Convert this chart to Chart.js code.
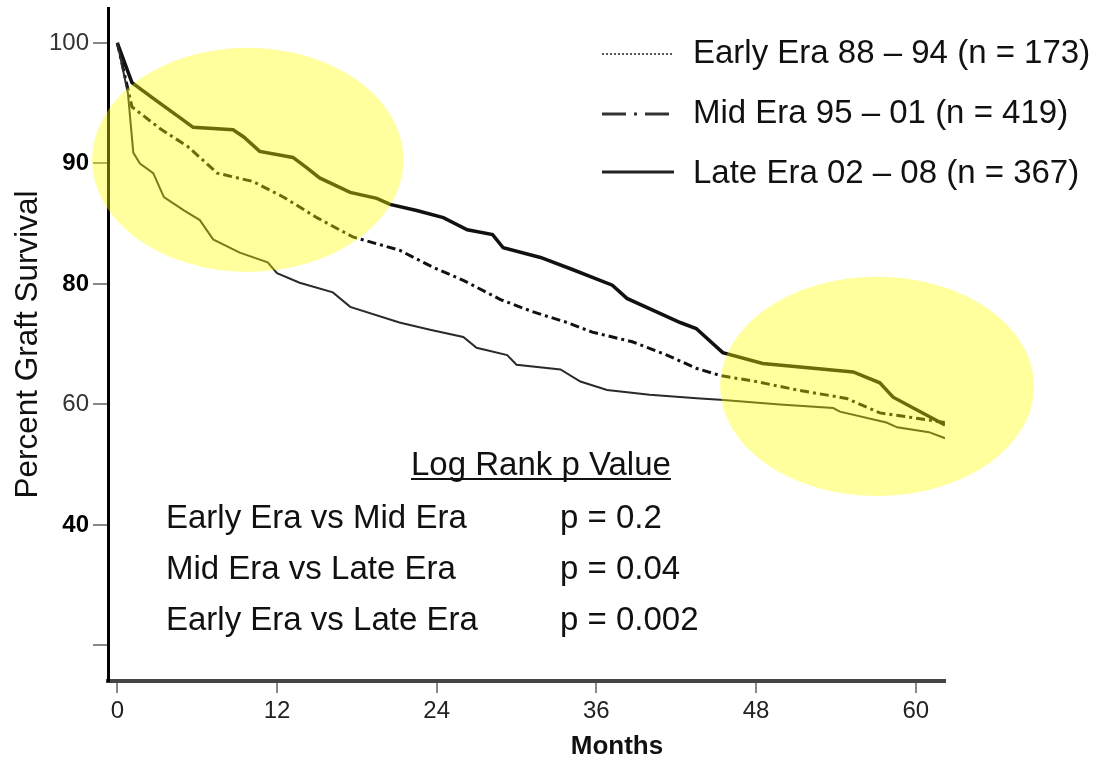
<!DOCTYPE html>
<html>
<head>
<meta charset="utf-8">
<script src="https://cdn.jsdelivr.net/npm/chart.js@4/dist/chart.umd.min.js"></script>
<style>
html,body{margin:0;padding:0;background:#fff;}
#wrap{width:1093px;height:759px;}
</style>
</head>
<body>
<div id="wrap"><canvas id="kmChart" width="1093" height="759"></canvas></div>
<script>

/* DATA */

const xTicks = [0,12,24,36,48,60]

// the printed axis is irregular: evenly spaced ticks carry these labels
const yTickValues = [50,60,70,80,90,100]
const yTickLabels = ["","40","60","80","90","100"]
const boldLabels = ["40","80","90"]

const earlyMonths = [0,0.8,1.2,1.7,2.7,3.5,5.0,6.2,7.2,9.2,11.3,12.0,13.7,16.2,17.5,21.2,23.5,26.0,27.0,29.3,30.0,33.3,34.8,36.8,40.0,43.8,45.3,49.8,53.8,54.3,57.8,58.6,61.0,62.2]
const earlyValues = [100,95.8,90.9,90.0,89.2,87.2,86.1,85.3,83.7,82.6,81.8,80.9,80.1,79.3,78.1,76.8,76.2,75.6,74.7,74.1,73.3,72.9,71.9,71.2,70.8,70.5,70.4,70.0,69.7,69.4,68.5,68.1,67.7,67.2]

const midMonths = [0,1.1,3.2,5.3,7.5,10.2,12.5,15.0,17.7,21.2,23.7,26.0,28.8,31.2,33.8,35.7,38.7,41.3,43.5,45.3,48.0,51.1,54.8,57.3,59.8,62.2]
const midValues = [100,94.7,92.9,91.4,89.2,88.5,87.2,85.5,83.9,82.8,81.4,80.3,78.7,77.7,76.8,76.0,75.2,74.1,73.0,72.4,71.9,71.2,70.5,69.3,68.9,68.5]

const lateMonths = [0,1.1,2.7,4.7,5.7,8.7,9.5,10.7,13.2,14.3,15.2,17.5,19.5,20.5,22.5,24.5,26.3,28.2,29.0,31.8,34.2,37.2,38.3,42.3,43.5,45.5,48.5,55.3,57.3,58.3,62.2]
const lateValues = [100,96.7,95.4,93.8,93.0,92.8,92.2,91.0,90.5,89.6,88.8,87.6,87.1,86.6,86.1,85.5,84.5,84.1,83.0,82.2,81.2,79.9,78.8,76.8,76.3,74.3,73.4,72.7,71.8,70.6,68.3]

const seriesNames = ["Early Era 88 – 94 (n = 173)","Mid Era 95 – 01 (n = 419)","Late Era 02 – 08 (n = 367)"]

const testRows = ["Early Era vs Mid Era","Mid Era vs Late Era","Early Era vs Late Era"]
const testP = ["p = 0.2","p = 0.04","p = 0.002"]

const FONT = "'Liberation Sans', Arial, sans-serif"

function pts(xs,ys){
return xs.map((x,i)=>({x:x,y:ys[i]}))
}

function yLabel(v){
const i = yTickValues.indexOf(v)
return i<0 ? "" : yTickLabels[i]
}

function isBold(c){
return !!(c && c.tick && boldLabels.includes(yLabel(c.tick.value)))
}

/* LEGEND, TEXT, HIGHLIGHTS */

const legendStyles = [
{dash:[2,2],width:2,color:"#555"},
{dash:[24,8,3,8],width:3,color:"#333"},
{dash:[],width:3,color:"#222"}
]

const overlay = {
id:"overlay",
afterDatasetsDraw(chart){
const ctx = chart.ctx
ctx.save()
ctx.font = "33px "+FONT
ctx.fillStyle = "#111"
ctx.textBaseline = "alphabetic"

seriesNames.forEach((name,i)=>{
const y = [54,114,172][i]
const s = legendStyles[i]
ctx.beginPath()
ctx.setLineDash(s.dash)
ctx.lineWidth = s.width
ctx.strokeStyle = s.color
ctx.moveTo(602,y)
ctx.lineTo(674,y)
ctx.stroke()
ctx.setLineDash([])
ctx.fillText(name,693,[63,123,183][i])
})

ctx.fillText("Log Rank p Value",411,475)
const w = ctx.measureText("Log Rank p Value").width
ctx.fillRect(411,478,w,2)

testRows.forEach((row,i)=>{
const y = 528+i*51
ctx.fillText(row,166,y)
ctx.fillText(testP[i],560,y)
})
ctx.restore()
},
afterDraw(chart){
const ctx = chart.ctx
const xs = chart.scales.x
const ys = chart.scales.y
ctx.save()
ctx.fillStyle = "rgba(255,255,0,0.38)"
;[[9.8,90.3,11.7,9.3],[57.1,71.5,11.8,9.1]].forEach(h=>{
const cx = xs.getPixelForValue(h[0])
const cy = ys.getPixelForValue(h[1])
const rx = xs.getPixelForValue(h[0]+h[2])-cx
const ry = cy-ys.getPixelForValue(h[1]+h[3])
ctx.beginPath()
ctx.ellipse(cx,cy,rx,ry,0,0,Math.PI*2)
ctx.fill()
})
ctx.fillStyle = "#111"
ctx.font = "bold 26px "+FONT
ctx.textAlign = "center"
ctx.textBaseline = "alphabetic"
ctx.fillText("Months",617,754)
ctx.restore()
}
}

/* CHART */

const kmChart = new Chart(
document.getElementById("kmChart"),
{
type:"line",
data:{
datasets:[
{
label:seriesNames[0],
data:pts(earlyMonths,earlyValues),
borderColor:"#2a2a2a",
borderWidth:2
},
{
label:seriesNames[1],
data:pts(midMonths,midValues),
borderColor:"#111",
borderWidth:3,
borderDash:[9,4,3,4]
},
{
label:seriesNames[2],
data:pts(lateMonths,lateValues),
borderColor:"#111",
borderWidth:3.5
}
]
},
options:{
responsive:false,
animation:false,
events:[],
layout:{padding:{left:0,right:148,top:8,bottom:0}},
elements:{point:{radius:0},line:{tension:0,fill:false}},
plugins:{legend:{display:false},tooltip:{enabled:false}},
scales:{
x:{
type:"linear",
min:-0.7,
max:62.2,
afterBuildTicks:s=>{s.ticks = xTicks.map(v=>({value:v}))},
afterFit:s=>{s.height = 78; s.paddingLeft = 0; s.paddingRight = 0},
border:{color:"#444",width:4},
grid:{drawOnChartArea:false,drawTicks:true,tickLength:12,color:"#888",lineWidth:2},
ticks:{color:"#222",padding:4,font:{family:FONT,size:24},maxRotation:0}
},
y:{
type:"linear",
min:47.05,
max:102.9,
afterBuildTicks:s=>{s.ticks = yTickValues.map(v=>({value:v}))},
afterFit:s=>{s.width = 108; s.paddingTop = 0; s.paddingBottom = 0},
border:{color:"#000",width:3},
grid:{drawOnChartArea:false,drawTicks:true,tickLength:15,color:"#888",lineWidth:2},
ticks:{
padding:4,
callback:v=>yLabel(v),
color:c=>isBold(c)?"#000":"#333",
font:c=>({family:FONT,size:24,weight:isBold(c)?"bold":"normal"})
},
title:{display:true,text:"Percent Graft Survival",color:"#111",font:{family:FONT,size:31.5},padding:{top:9,bottom:0}}
}
}
},
plugins:[overlay]
}
)

</script>
</body>
</html>
